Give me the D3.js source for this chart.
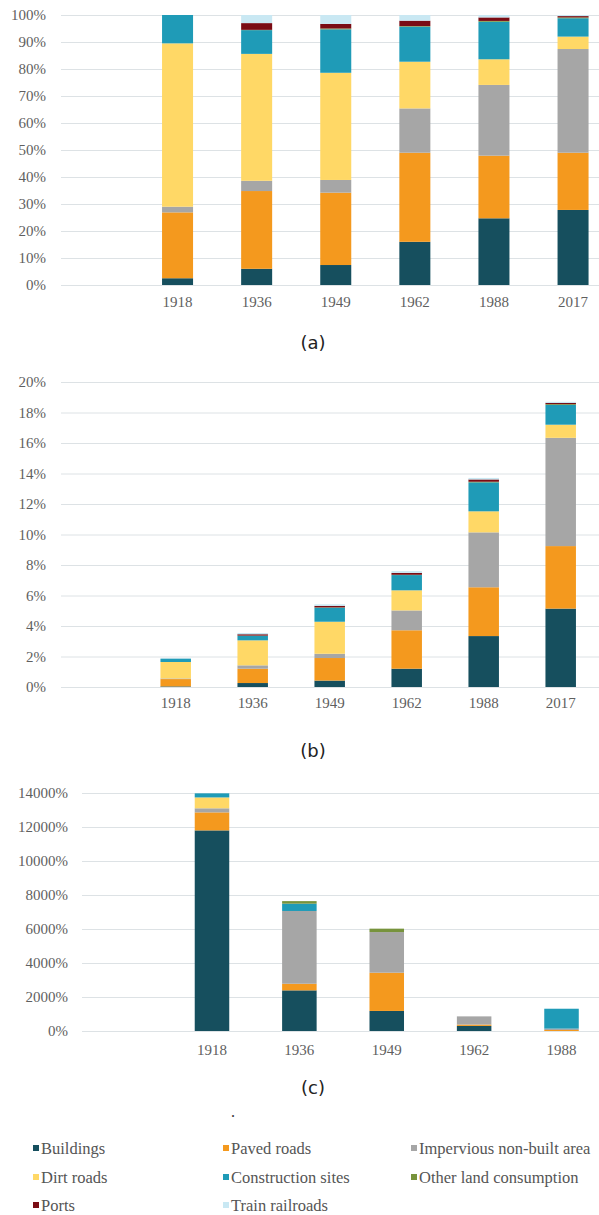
<!DOCTYPE html>
<html>
<head>
<meta charset="utf-8">
<script src="https://cdn.jsdelivr.net/npm/d3@7/dist/d3.min.js"></script>
<style>
  html, body { margin: 0; padding: 0; background: #fff; }
  svg { display: block; }
</style>
</head>
<body>
<svg id="chart" width="599" height="1215"></svg>
<script>
// ---------- DATA ----------
const seriesNames = ["Buildings", "Paved roads", "Impervious non-built area", "Dirt roads",
  "Construction sites", "Other land consumption", "Ports", "Train railroads"];
const seriesColors = ["#164f5e", "#f4991e", "#a6a6a6", "#ffd866",
  "#1f9bb7", "#77933c", "#7a0c14", "#c9e8f3"];

const yearsAB = ["1918", "1936", "1949", "1962", "1988", "2017"];
const yearsC = ["1918", "1936", "1949", "1962", "1988"];

// (a) share of each class, % (rows = years, columns = series)
const shareA = [
  [2.5, 24.4, 2.1, 60.5, 10.5, 0.0, 0.0, 0.0],
  [6.0, 28.8, 3.8, 47.0, 8.8, 0.1, 2.5, 3.0],
  [7.4, 26.8, 4.7, 39.7, 16.1, 0.3, 1.7, 3.3],
  [16.0, 33.0, 16.4, 17.3, 13.0, 0.2, 2.0, 2.1],
  [24.7, 23.2, 26.2, 9.5, 13.9, 0.3, 1.3, 0.9],
  [27.8, 21.2, 38.4, 4.6, 6.8, 0.3, 0.5, 0.4]
];
// (b) share of area, %
const shareB = [
  [0.04, 0.48, 0.04, 1.08, 0.22, 0.0, 0.0, 0.0],
  [0.26, 0.94, 0.22, 1.64, 0.30, 0.01, 0.09, 0.08],
  [0.42, 1.48, 0.28, 2.10, 0.92, 0.02, 0.10, 0.10],
  [1.20, 2.52, 1.30, 1.32, 1.00, 0.02, 0.12, 0.12],
  [3.34, 3.20, 3.60, 1.38, 1.90, 0.04, 0.15, 0.10],
  [5.14, 4.10, 7.10, 0.86, 1.30, 0.05, 0.08, 0.07]
];
// (c) growth, %
const growthC = [
  [11800, 1060, 240, 640, 240, 0, 0, 0],
  [2390, 390, 4280, 0, 430, 150, 0, 0],
  [1180, 2250, 2390, 0, 0, 200, 0, 0],
  [300, 80, 480, 0, 0, 0, 0, 0],
  [0, 60, 80, 0, 1170, 0, 0, 0]
];

const ticksA = [0, 10, 20, 30, 40, 50, 60, 70, 80, 90, 100];
const ticksB = [0, 2, 4, 6, 8, 10, 12, 14, 16, 18, 20];
const ticksC = [0, 2000, 4000, 6000, 8000, 10000, 12000, 14000];

const panelLabels = ["(a)", "(b)", "(c)"];

// ---------- DRAW ----------
const svg = d3.select("#chart");
svg.append("rect").attr("width", 599).attr("height", 1215).attr("fill", "#fff");

const serif = "'Liberation Serif', 'Times New Roman', serif";

function panel(cfg) {
  const g = svg.append("g");
  const x = d3.scaleBand().domain(cfg.years).range(cfg.xRange)
    .paddingInner(cfg.pad).paddingOuter(cfg.pad / 2);
  const y = d3.scaleLinear().domain(cfg.yDomain).range(cfg.yRange);

  // gridlines + y labels
  const yAxis = d3.axisLeft(y).tickValues(cfg.ticks).tickFormat(d => d + "%")
    .tickSize(-(599 - cfg.gridX0)).tickPadding(cfg.yPad);
  const ya = g.append("g").attr("transform", `translate(${cfg.gridX0},0)`).call(yAxis);
  ya.select(".domain").remove();
  ya.selectAll("line").attr("stroke", "#dde2e5").attr("stroke-width", 1);
  ya.selectAll("text").attr("fill", "#5f5f5f").style("font-family", serif).style("font-size", "15px");

  // stacked bars
  const rows = cfg.years.map((yr, i) => {
    const o = { year: yr };
    seriesNames.forEach((s, j) => o[s] = cfg.values[i][j]);
    return o;
  });
  const stack = d3.stack().keys(seriesNames)(rows);
  g.selectAll("g.layer").data(stack).join("g").attr("class", "layer")
    .attr("fill", (d, i) => seriesColors[i])
    .selectAll("rect").data(d => d).join("rect")
    .attr("x", d => x(d.data.year))
    .attr("width", x.bandwidth())
    .attr("y", d => y(d[1]))
    .attr("height", d => Math.max(0, y(d[0]) - y(d[1])));

  // x labels
  const xAxis = d3.axisBottom(x).tickSize(0).tickPadding(cfg.xPad);
  const xa = g.append("g").attr("transform", `translate(0,${cfg.yRange[0]})`).call(xAxis);
  xa.select(".domain").remove();
  xa.selectAll("text").attr("fill", "#5f5f5f").style("font-family", serif).style("font-size", "15px");

  // panel label
  svg.append("text").attr("x", 313).attr("y", cfg.labelY).attr("text-anchor", "middle")
    .style("font-family", "'DejaVu Sans', sans-serif").style("font-size", "18px")
    .attr("fill", "#222").text(cfg.label);
}

panel({ years: yearsAB, values: shareA, ticks: ticksA, yDomain: [0, 100], yRange: [285, 15],
  xRange: [138, 612.6], pad: 0.608, gridX0: 61, yPad: 15, xPad: 11, labelY: 349, label: panelLabels[0] });
panel({ years: yearsAB, values: shareB, ticks: ticksB, yDomain: [0, 20], yRange: [687, 382],
  xRange: [137.2, 599.2], pad: 0.604, gridX0: 61, yPad: 15, xPad: 10, labelY: 757, label: panelLabels[1] });
panel({ years: yearsC, values: growthC, ticks: ticksC, yDomain: [0, 14000], yRange: [1031, 793],
  xRange: [168.3, 605.2], pad: 0.605, gridX0: 82, yPad: 14, xPad: 13, labelY: 1094, label: panelLabels[2] });

// stray dot
svg.append("text").attr("x", 231).attr("y", 1117).style("font-family", serif)
  .style("font-size", "16px").attr("fill", "#333").text(".");

// legend
const legCols = [33, 223, 411];
const legRows = [1148, 1177, 1205];
const leg = svg.append("g");
seriesNames.forEach((s, i) => {
  const cx = legCols[i % 3], cy = legRows[Math.floor(i / 3)];
  leg.append("rect").attr("x", cx).attr("y", cy - 3).attr("width", 6).attr("height", 6)
    .attr("fill", seriesColors[i]);
  leg.append("text").attr("x", cx + 8).attr("y", cy).attr("dy", "0.35em")
    .style("font-family", serif).style("font-size", "16.5px").attr("fill", "#555").text(s);
});
</script>
</body>
</html>
